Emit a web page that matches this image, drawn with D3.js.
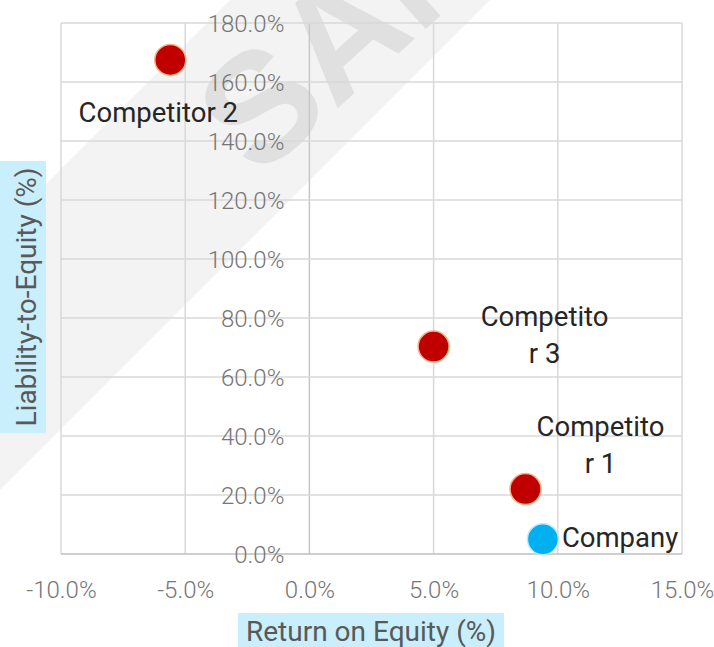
<!DOCTYPE html>
<html>
  <head>
    <meta charset="utf-8">
    <style>
      body { margin: 0; background: #fff; }
      svg { display: block; font-family: Roboto, "Noto Sans", sans-serif; }
    </style>
    <title>ROE vs Liability-to-Equity</title>
  </head>
  <body>

  <div id="viz-wrapper"></div>

  <script src="https://cdnjs.cloudflare.com/ajax/libs/d3/7.8.5/d3.min.js" charset="utf-8"></script>
  <script type="text/javascript">

    // data
    var names = ['Company', 'Competitor 1', 'Competitor 2', 'Competitor 3'];
    var roe = [9.4, 8.7, -5.6, 5.0];          // Return on Equity (%)
    var lte = [5.0, 22.0, 167.5, 70.3];       // Liability-to-Equity (%)
    var kinds = ['company', 'competitor', 'competitor', 'competitor'];
    var xTicks = [-10, -5, 0, 5, 10, 15];
    var yTicks = [0, 20, 40, 60, 80, 100, 120, 140, 160, 180];

    // label placement (layout only)
    var labelLayout = [
      { dx: 19, dy: 8, anchor: 'start', wrap: null },
      { dx: 75, dy: -53, anchor: 'middle', wrap: 9 },
      { dx: -12, dy: 62, anchor: 'middle', wrap: null },
      { dx: 111, dy: -21, anchor: 'middle', wrap: 9 }
    ];

    var width = 714;
    var height = 647;
    var plotLeft = 61, plotRight = 682, plotTop = 23, plotBottom = 554;

    var svg = d3.select('#viz-wrapper')
                .append('svg')
                .attr('width', width)
                .attr('height', height);

    var x = d3.scaleLinear().domain([-10, 15]).range([plotLeft, plotRight]);
    var y = d3.scaleLinear().domain([0, 180]).range([plotBottom, plotTop]);

    // watermark band + text (sits under the grid)
    var wm = svg.append('g');
    wm.append('polygon')
      .attr('points', '0,230 230,0 490,0 0,490')
      .style('fill', '#f3f3f3');
    wm.append('text')
      .attr('transform', 'translate(258,180) rotate(-42)')
      .attr('font-family', 'Liberation Sans, Arial, sans-serif')
      .attr('font-weight', 'bold')
      .attr('font-size', 155)
      .style('fill', '#e0e0e0')
      .text('SAMPLE');

    // gridlines
    var grid = svg.append('g');
    grid.selectAll('line.v')
        .data(xTicks)
        .enter()
        .append('line')
        .attr('class', 'v')
        .attr('x1', function(d) { return x(d); })
        .attr('x2', function(d) { return x(d); })
        .attr('y1', y(180))
        .attr('y2', y(0))
        .style('stroke', function(d) { return d === 0 ? '#c6c6c6' : '#d9d9d9'; })
        .style('stroke-width', 1.5);
    grid.selectAll('line.h')
        .data(yTicks)
        .enter()
        .append('line')
        .attr('class', 'h')
        .attr('x1', x(-10))
        .attr('x2', x(15))
        .attr('y1', function(d) { return y(d); })
        .attr('y2', function(d) { return y(d); })
        .style('stroke', function(d) { return d === 0 ? '#bfbfbf' : '#d9d9d9'; })
        .style('stroke-width', 1.5);

    // hyphen minus like the original, not the unicode minus
    var fmt = function(d) { return (d < 0 ? '-' : '') + Math.abs(d).toFixed(1) + '%'; };

    // x axis labels
    var xAxis = svg.append('g')
                   .attr('transform', 'translate(0,' + (plotBottom + 36) + ')')
                   .call(d3.axisBottom(x).tickValues(xTicks).tickFormat(fmt).tickSize(0).tickPadding(0));
    // y axis labels, crossing at x = 0
    var yAxis = svg.append('g')
                   .attr('transform', 'translate(' + x(0) + ',0)')
                   .call(d3.axisLeft(y).tickValues(yTicks).tickFormat(fmt).tickSize(0).tickPadding(25));

    [xAxis, yAxis].forEach(function(a) {
      a.select('.domain').remove();
      a.selectAll('text')
       .attr('font-family', 'Roboto, sans-serif')
       .attr('font-size', 24)
       .attr('font-weight', 300)
       .style('fill', '#767676');
    });
    yAxis.selectAll('text').attr('dy', '0.35em');
    xAxis.selectAll('text').attr('dy', '0.35em');

    // points
    var pts = names.map(function(n, i) {
      return { name: n, roe: roe[i], lte: lte[i], kind: kinds[i], lay: labelLayout[i] };
    });

    svg.selectAll('circle.pt')
       .data(pts)
       .enter()
       .append('circle')
       .attr('class', 'pt')
       .attr('cx', function(d) { return x(d.roe); })
       .attr('cy', function(d) { return y(d.lte); })
       .attr('r', 15.5)
       .style('fill', function(d) { return d.kind === 'company' ? '#00b0f0' : '#c00000'; })
       .style('stroke', function(d) { return d.kind === 'company' ? '#bfe9fb' : '#f4b183'; })
       .style('stroke-width', 1.5);

    // data labels
    var labels = svg.selectAll('text.lbl')
       .data(pts)
       .enter()
       .append('text')
       .attr('class', 'lbl')
       .attr('x', function(d) { return x(d.roe) + d.lay.dx; })
       .attr('y', function(d) { return y(d.lte) + d.lay.dy; })
       .attr('text-anchor', function(d) { return d.lay.anchor; })
       .attr('font-size', 27.5)
       .style('fill', '#262626');

    labels.each(function(d) {
      var lines = d.lay.wrap ? [d.name.slice(0, d.lay.wrap), d.name.slice(d.lay.wrap)] : [d.name];
      d3.select(this).selectAll('tspan')
        .data(lines)
        .enter()
        .append('tspan')
        .attr('x', x(d.roe) + d.lay.dx)
        .attr('dy', function(l, i) { return i === 0 ? 0 : 37; })
        .text(function(l) { return l; });
    });

    // axis titles with highlight boxes
    svg.append('rect')
       .attr('x', 238).attr('y', 613)
       .attr('width', 266).attr('height', 40)
       .style('fill', '#c9eefc');
    svg.append('text')
       .attr('x', 371).attr('y', 641)
       .attr('text-anchor', 'middle')
       .attr('font-size', 28)
       .style('fill', '#595959')
       .text('Return on Equity (%)');

    svg.append('rect')
       .attr('x', 0).attr('y', 161)
       .attr('width', 46).attr('height', 272)
       .style('fill', '#c9eefc');
    svg.append('text')
       .attr('transform', 'translate(36,297) rotate(-90)')
       .attr('text-anchor', 'middle')
       .attr('font-size', 28)
       .style('fill', '#595959')
       .text('Liability-to-Equity (%)');

  </script>
  </body>
</html>
